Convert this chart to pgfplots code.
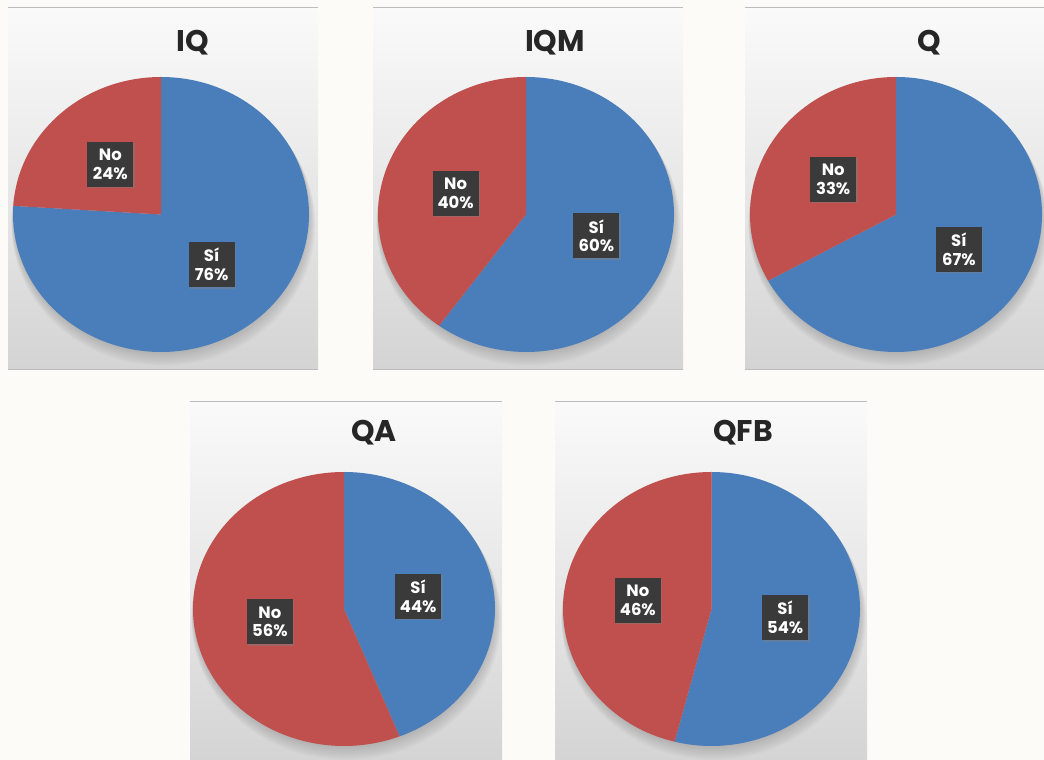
\documentclass[border=0pt]{standalone}
\usepackage{pgfplots}
\pgfplotsset{compat=1.18}
\usepackage{pgfplotstable}
\usepackage{fontspec}
\setmainfont{Poppins}
\usetikzlibrary{shadows}

\definecolor{sicolor}{HTML}{4A7EBB}
\definecolor{nocolor}{HTML}{C0504D}
\definecolor{pagebg}{HTML}{FCFBF7}
\definecolor{paneltop}{HTML}{FAFAFA}
\definecolor{panelbot}{HTML}{D4D4D4}
\definecolor{panelline}{HTML}{BDBDBD}
\definecolor{boxcolor}{HTML}{3A3A3A}
\definecolor{titlecolor}{HTML}{262626}

% Share of "Sí" / "No" answers per programme
\pgfplotstableread{
name si  no
IQ   76  24
IQM  60  40
Q    67  33
QA   44  56
QFB  54  46
}\pietable

\tikzset{
  lbl/.style={fill=boxcolor, text=white, align=center,
    font=\bfseries\fontsize{16.5}{19}\selectfont,
    minimum width=46bp, minimum height=45bp, inner sep=2bp,
    drop shadow={shadow xshift=1.5bp, shadow yshift=-1.5bp, opacity=0.45}},
  ttl/.style={anchor=base, text=titlecolor,
    font=\bfseries\fontsize{30}{30}\selectfont},
}

% panel background: left, bottom, right, top
\newcommand{\panel}[4]{%
  \shade[top color=paneltop, bottom color=panelbot] (#1bp,#2bp) rectangle (#3bp,#4bp);
  \draw[panelline, line width=1bp] (#1bp,#4bp) -- (#3bp,#4bp);
  \draw[panelline, line width=1bp] (#1bp,#2bp) -- (#3bp,#2bp);
}

% one pie: table row, centre x, centre y, x radius, y radius, title x, title baseline y
\newcommand{\pie}[7]{%
  \pgfplotstablegetelem{#1}{name}\of\pietable \edef\piename{\pgfplotsretval}%
  \pgfplotstablegetelem{#1}{si}\of\pietable \edef\siv{\pgfplotsretval}%
  \pgfplotstablegetelem{#1}{no}\of\pietable \edef\nov{\pgfplotsretval}%
  \pgfmathsetmacro{\sidelta}{-3.6*\siv}%
  \pgfmathsetmacro{\nodelta}{3.6*\nov}%
  \pgfmathsetmacro{\simid}{90-1.8*\siv}%
  \pgfmathsetmacro{\nomid}{90+1.8*\nov}%
  \pgfmathsetmacro{\six}{0.5*cos(\simid)}%
  \pgfmathsetmacro{\siy}{0.5*sin(\simid)}%
  \pgfmathsetmacro{\nox}{0.5*cos(\nomid)}%
  \pgfmathsetmacro{\noy}{0.5*sin(\nomid)}%
  \node[ttl] at (#6bp,#7bp) {\piename};
  % soft shadow below the pie
  \foreach \k in {1,...,8} {
    \fill[black, opacity=0.02] (#2bp+0.3*\k bp,#3bp-1.3*\k bp)
      ellipse[x radius=#4bp+0.5*\k bp, y radius=#5bp+0.4*\k bp];
  }
  \begin{axis}[at={(#2bp,#3bp)}, anchor=center,
      width=2*#4bp, height=2*#5bp, scale only axis, hide axis,
      xmin=-1, xmax=1, ymin=-1, ymax=1, clip=false]
    \addplot[draw=none, fill=sicolor, mark=none] coordinates {(0,0) (0,1)}
      arc[start angle=90, delta angle=\sidelta, x radius=#4bp, y radius=#5bp] -- cycle;
    \addplot[draw=none, fill=nocolor, mark=none] coordinates {(0,0) (0,1)}
      arc[start angle=90, delta angle=\nodelta, x radius=#4bp, y radius=#5bp] -- cycle;
    \node[lbl] at (axis cs:\six,\siy) {Sí\\\siv\%};
    \node[lbl] at (axis cs:\nox,\noy) {No\\\nov\%};
  \end{axis}
}

\begin{document}
\begin{tikzpicture}
  \useasboundingbox (0,0) rectangle (1044bp,760bp);
  \clip (0,0) rectangle (1044bp,760bp);
  \fill[pagebg] (0,0) rectangle (1044bp,760bp);

  \panel{8}{390}{318}{752}
  \panel{373}{390}{683}{752}
  \panel{745}{390}{1046}{752}
  \panel{190}{-2}{502}{358}
  \panel{555}{-2}{867}{358}

  \pie{0}{161}{545.5}{148}{137.5}{192.5}{708}
  \pie{1}{526}{545.5}{148}{137.5}{555}{708}
  \pie{2}{896}{545.5}{146}{137.5}{929.5}{708}
  \pie{3}{344}{151}{151}{137}{374}{318}
  \pie{4}{711.5}{151}{148.5}{137}{743}{318}
\end{tikzpicture}
\end{document}
